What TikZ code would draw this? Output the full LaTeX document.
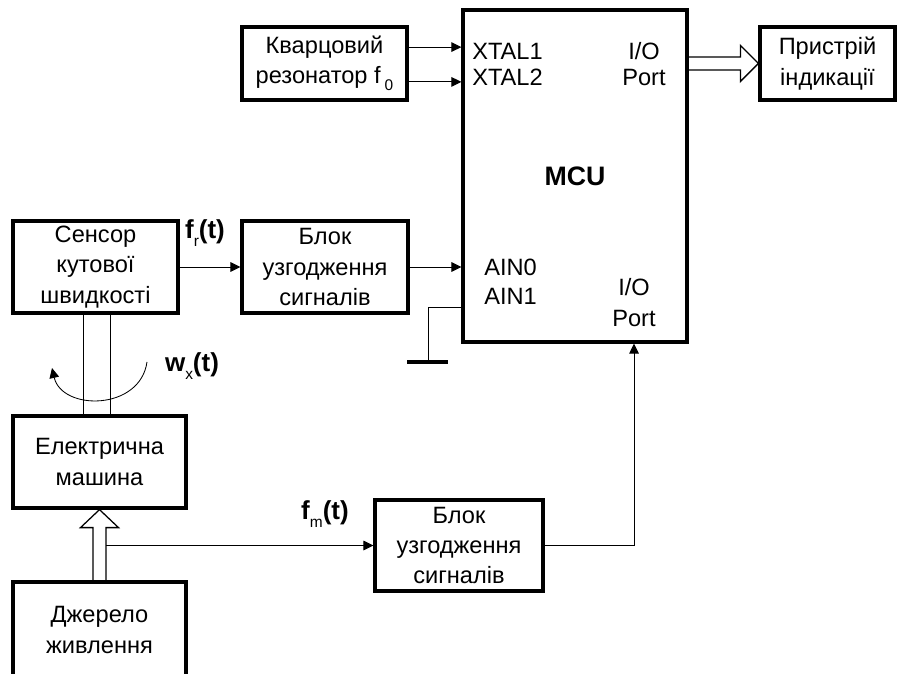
\documentclass[tikz,border=0pt]{standalone}
\usepackage{fontspec}
\setmainfont{Liberation Sans}
\usetikzlibrary{positioning}
\usetikzlibrary{arrows.meta}
\usetikzlibrary{calc}

\newcommand{\lowidx}[1]{\raisebox{-0.55ex}{\mdseries\fontsize{11}{11}\selectfont #1}}

\begin{document}
\begin{tikzpicture}[
  blk/.style={
    rectangle,
    draw=black,
    line width=2.3pt,
    minimum height=2.3cm,
    align=center,
    font=\fontsize{16.8}{21.5}\selectfont
  },
  pin/.style={
    inner sep=0pt,
    align=center,
    font=\fontsize{16.8}{18}\selectfont
  },
  sigtxt/.style={inner sep=0pt, font=\bfseries\fontsize{18.5}{20}\selectfont},
  sig/.style={-{Triangle[length=2.5mm,width=2.4mm]}, line width=0.7pt},
  wire/.style={line width=0.7pt},
  hollow/.style={line width=0.9pt},
  gndbar/.style={line width=2.8pt}
]
\useasboundingbox (0,0) rectangle (22.875,16.825);
\node[blk, minimum width=5.6cm, minimum height=8.3cm,
      font=\bfseries\fontsize{19}{20}\selectfont] (mcu) at (14.375,12.425) {MCU};
\node[blk, minimum width=4.125cm, minimum height=1.825cm] (kv)   at (8.1125,15.2375) {Кварцовий\\резонатор f\,\lowidx{0}};
\node[blk, minimum width=3.375cm, minimum height=1.825cm] (disp) at (20.6875,15.2375) {Пристрій\\індикації};
\node[blk, minimum width=4.125cm] (sens) at (2.3875,10.15) {Сенсор\\кутової\\швидкості};
\node[blk, minimum width=4.15cm]  (bl1)  at (8.125,10.15) {Блок\\узгодження\\сигналів};
\node[blk, minimum width=4.325cm] (em)   at (2.4875,5.275) {Електрична\\машина};
\node[blk, minimum width=4.2cm, minimum height=2.275cm] (bl2) at (11.475,3.1875) {Блок\\узгодження\\сигналів};
\node[blk, minimum width=4.325cm, minimum height=2.4cm] (pwr) at (2.4875,1.075) {Джерело\\живлення};
% MCU pins
\node[pin, anchor=west] (xt1) at (11.8,15.54) {XTAL1};
\node[pin, anchor=west] (xt2) at (11.8,14.9) {XTAL2};
\node[pin] (iot) at (16.1,15.225) {I/O\\Port};
\node[pin, anchor=west] (ain0) at (12.1,10.1375) {AIN0};
\node[pin, anchor=west] (ain1) at (12.1,9.425) {AIN1};
\node[pin, font=\fontsize{16.8}{21.5}\selectfont] (iob) at (15.85,9.2625) {I/O\\Port};
% signal labels
\node[sigtxt] (fr) at (5.125,11.0) {f\lowidx{r}(t)};
\node[sigtxt] (wx) at (4.8,7.675) {w\lowidx{x}(t)};
\node[sigtxt] (fm) at (8.125,3.975) {f\lowidx{m}(t)};
% resonator
\coordinate (k1) at ($(kv.east)+(0,0.41)$);
\coordinate (k2) at ($(kv.east)+(0,-0.46)$);
\draw[sig] (k1) -- (k1 -| mcu.west);
\draw[sig] (k2) -- (k2 -| mcu.west);
% sensor chain
\draw[sig] (sens) -- (bl1);
\draw[sig] (bl1.east) -- (bl1.east -| mcu.west);
\coordinate (gnd) at (10.7,7.775);
\draw[wire] (mcu.west |- 0,9.15) -| (gnd);
\draw[gndbar] ([xshift=-5.25mm]gnd) -- ([xshift=5mm]gnd);
% shaft and rotation
\draw[wire] (sens.south -| 2.075,0) -- (em.north -| 2.075,0);
\draw[wire] (sens.south -| 2.75,0) -- (em.north -| 2.75,0);
\draw[sig, line width=0.6pt] (3.675,7.775) .. controls (3.5,6.55) and (1.55,6.55) .. (1.3,7.625);
% output to display
\coordinate (dbl) at (mcu.east |- disp.west);
\draw[hollow] ([yshift=1.6mm]dbl) -| ([xshift=-4.5mm,yshift=4.5mm]disp.west) -- (disp.west)
  -- ([xshift=-4.5mm,yshift=-4.5mm]disp.west) |- ([yshift=-1.6mm]dbl);
% power supply
\coordinate (tip) at (pwr.north |- em.south);
\draw[hollow] ([xshift=-1.6mm]pwr.north) |- ([xshift=-4.75mm,yshift=-4.5mm]tip) -- (tip)
  -- ([xshift=4.75mm,yshift=-4.5mm]tip) -| ([xshift=1.6mm]pwr.north);
\draw[sig] ([xshift=1.6mm]pwr.north |- bl2.west) -- (bl2.west);
\draw[sig] (bl2.east) -| (mcu.south -| iob);
\end{tikzpicture}
\end{document}
